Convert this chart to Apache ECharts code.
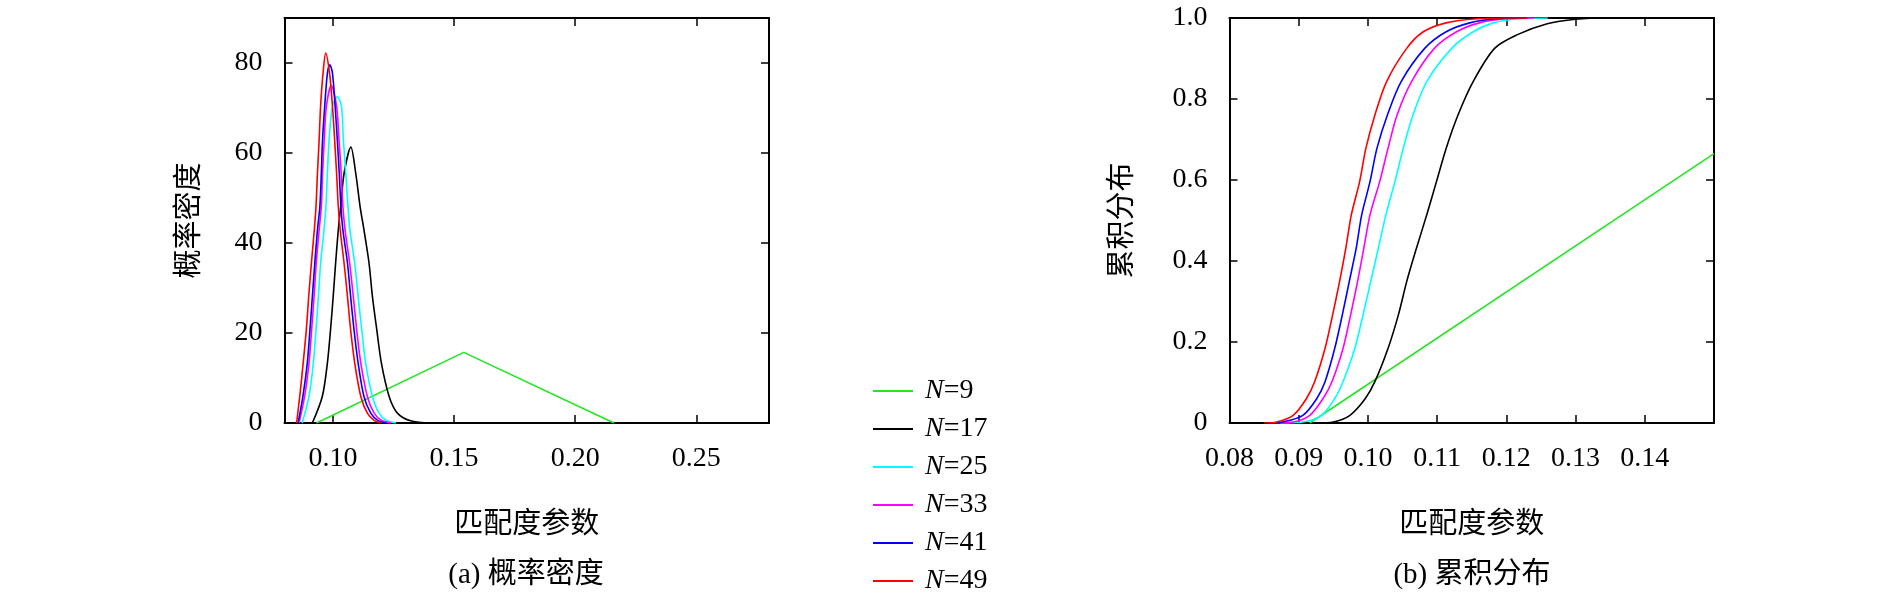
<!DOCTYPE html>
<html><head><meta charset="utf-8">
<script src="https://cdn.jsdelivr.net/npm/echarts@6/dist/echarts.min.js"></script>
<style>html,body{margin:0;padding:0;background:#fff}#c{width:1890px;height:602px}</style>
</head><body><div id="c"></div>
<script>
// ---------- data ----------
const seriesNames  = ['N=9', 'N=17', 'N=25', 'N=33', 'N=41', 'N=49'];
const seriesColors = ['#22e622', '#000000', '#00ffff', '#ff00ff', '#0000ff', '#ff0000'];

// (a) probability density, [x, density]
const pdfN9  = [[0.0932,0],[0.1540,15.7],[0.2160,0]];
const pdfN17 = [[0.0915,0],[0.0956,5.9],[0.0977,13.3],[0.0990,20.7],[0.1001,28.1],[0.1011,35.5],[0.1022,42.9],[0.1032,48.1],[0.1046,55.5],[0.1074,61.3],[0.1094,55.5],[0.1112,48.1],[0.1128,42.9],[0.1149,35.5],[0.1163,28.1],[0.1181,20.7],[0.1200,13.3],[0.1232,5.9],[0.1266,2.2],[0.1320,0.5],[0.1405,0]];
const pdfN25 = [[0.0873,0],[0.0901,5.9],[0.0919,13.3],[0.0930,20.7],[0.0940,28.1],[0.0949,35.5],[0.0963,42.9],[0.0971,48.1],[0.0977,55.5],[0.0984,62.9],[0.0998,70.4],[0.1018,72.5],[0.1035,70.4],[0.1043,62.9],[0.1053,55.5],[0.1062,48.1],[0.1070,42.9],[0.1090,35.5],[0.1104,28.1],[0.1119,20.7],[0.1135,13.3],[0.1163,5.9],[0.1190,2.2],[0.1220,0.6],[0.1260,0]];
const pdfN33 = [[0.0860,0],[0.0883,5.9],[0.0901,13.3],[0.0912,20.7],[0.0922,28.1],[0.0931,35.5],[0.0943,42.9],[0.0952,48.1],[0.0957,55.5],[0.0964,62.9],[0.0973,70.4],[0.0993,75.0],[0.1015,70.4],[0.1025,62.9],[0.1034,55.5],[0.1041,48.1],[0.1050,42.9],[0.1069,35.5],[0.1084,28.1],[0.1098,20.7],[0.1115,13.3],[0.1142,5.9],[0.1170,2.2],[0.1200,0.6],[0.1240,0]];
const pdfN41 = [[0.0856,0],[0.0876,5.9],[0.0894,13.3],[0.0905,20.7],[0.0915,28.1],[0.0925,35.5],[0.0936,42.9],[0.0946,48.1],[0.0952,55.5],[0.0957,62.9],[0.0966,70.4],[0.0977,77.7],[0.0987,79.6],[0.0998,77.7],[0.1009,70.4],[0.1018,62.9],[0.1026,55.5],[0.1033,48.1],[0.1041,42.9],[0.1060,35.5],[0.1073,28.1],[0.1087,20.7],[0.1104,13.3],[0.1128,5.9],[0.1156,2.2],[0.1185,0.6],[0.1220,0]];
const pdfN49 = [[0.0850,0],[0.0863,5.9],[0.0877,13.3],[0.0890,20.7],[0.0900,28.1],[0.0911,35.5],[0.0923,42.9],[0.0930,48.1],[0.0936,55.5],[0.0943,62.9],[0.0949,70.4],[0.0959,77.7],[0.0970,82.2],[0.0986,77.7],[0.0998,70.4],[0.1007,62.9],[0.1015,55.5],[0.1022,48.1],[0.1030,42.9],[0.1046,35.5],[0.1060,28.1],[0.1073,20.7],[0.1090,13.3],[0.1115,5.9],[0.1142,2.2],[0.1170,0.6],[0.1200,0]];

// (b) cumulative distribution, [x, F]
const cdfN9  = [[0.0916,0],[0.1500,0.665]];
const cdfN17 = [[0.0926,0],[0.0950,0.0025],[0.0974,0.019],[0.0996,0.060],[0.1010,0.102],[0.1029,0.184],[0.1044,0.267],[0.1056,0.349],[0.1070,0.431],[0.1085,0.514],[0.1099,0.596],[0.1113,0.678],[0.1130,0.760],[0.1152,0.843],[0.1183,0.925],[0.1216,0.959],[0.1259,0.986],[0.1300,0.997],[0.1346,1.0],[0.1380,1.0]];
const cdfN25 = [[0.0873,0],[0.0906,0.0025],[0.0933,0.019],[0.0952,0.060],[0.0964,0.102],[0.0981,0.184],[0.0993,0.267],[0.1004,0.349],[0.1015,0.431],[0.1026,0.514],[0.1039,0.596],[0.1051,0.678],[0.1065,0.760],[0.1085,0.843],[0.1121,0.925],[0.1152,0.966],[0.1181,0.988],[0.1220,0.998],[0.1260,1.0]];
const cdfN33 = [[0.0860,0],[0.0892,0.0025],[0.0916,0.019],[0.0935,0.060],[0.0948,0.102],[0.0964,0.184],[0.0975,0.267],[0.0985,0.349],[0.0994,0.431],[0.1003,0.514],[0.1017,0.596],[0.1029,0.678],[0.1042,0.760],[0.1063,0.843],[0.1096,0.925],[0.1128,0.966],[0.1161,0.988],[0.1200,0.998],[0.1240,1.0]];
const cdfN41 = [[0.0856,0],[0.0877,0.0025],[0.0906,0.019],[0.0926,0.060],[0.0938,0.102],[0.0952,0.184],[0.0963,0.267],[0.0973,0.349],[0.0983,0.431],[0.0991,0.514],[0.1003,0.596],[0.1013,0.678],[0.1028,0.760],[0.1048,0.843],[0.1082,0.925],[0.1113,0.966],[0.1147,0.988],[0.1185,0.998],[0.1230,1.0]];
const cdfN49 = [[0.0850,0],[0.0868,0.0025],[0.0892,0.019],[0.0911,0.060],[0.0923,0.102],[0.0938,0.184],[0.0949,0.267],[0.0959,0.349],[0.0968,0.431],[0.0976,0.514],[0.0988,0.596],[0.0997,0.678],[0.1010,0.760],[0.1027,0.843],[0.1056,0.925],[0.1080,0.966],[0.1113,0.988],[0.1157,0.998],[0.1200,1.0],[0.1230,1.0]];

// tick labels
const pdfXTicks = [0.10, 0.15, 0.20, 0.25];
const cdfXTicks = [0.08, 0.09, 0.10, 0.11, 0.12, 0.13, 0.14];

const pdfData = [pdfN9, pdfN17, pdfN25, pdfN33, pdfN41, pdfN49];
const cdfData = [cdfN9, cdfN17, cdfN25, cdfN33, cdfN41, cdfN49];

// ---------- chart ----------
const FONT = "'Liberation Serif', 'Noto Sans CJK SC', serif";
const FS = 28;
const lineAxis = {show: true, onZero: false, lineStyle: {color: '#000', width: 2}};
const tickIn = (extra) => Object.assign({show: true, inside: true, length: 8, lineStyle: {color: '#000', width: 1.5}}, extra || {});
const lbl = (extra) => Object.assign({color: '#000', fontFamily: FONT, fontSize: FS}, extra || {});
const nameStyle = {color: '#000', fontFamily: FONT, fontSize: 29};

const xAxes = [
  {gridIndex: 0, type: 'value', min: 0.08, max: 0.28, position: 'bottom',
   axisLine: lineAxis, splitLine: {show: false},
   axisTick: tickIn({customValues: pdfXTicks}),
   axisLabel: lbl({customValues: pdfXTicks, margin: 22, formatter: v => v.toFixed(2)}),
   name: '匹配度参数', nameLocation: 'middle', nameGap: 88, nameTextStyle: nameStyle},
  {gridIndex: 0, type: 'value', min: 0.08, max: 0.28, position: 'top',
   axisLine: lineAxis, splitLine: {show: false},
   axisTick: tickIn({customValues: pdfXTicks}), axisLabel: {show: false}},
  {gridIndex: 1, type: 'value', min: 0.08, max: 0.15, interval: 0.01, position: 'bottom',
   axisLine: lineAxis, splitLine: {show: false},
   axisTick: tickIn({customValues: cdfXTicks}),
   axisLabel: lbl({customValues: cdfXTicks, margin: 22, formatter: v => v.toFixed(2)}),
   name: '匹配度参数', nameLocation: 'middle', nameGap: 88, nameTextStyle: nameStyle},
  {gridIndex: 1, type: 'value', min: 0.08, max: 0.15, interval: 0.01, position: 'top',
   axisLine: lineAxis, splitLine: {show: false},
   axisTick: tickIn({customValues: cdfXTicks}), axisLabel: {show: false}}
];
const yAxes = [
  {gridIndex: 0, type: 'value', min: 0, max: 90, interval: 20, position: 'left',
   axisLine: lineAxis, splitLine: {show: false}, axisTick: tickIn(),
   axisLabel: lbl({margin: 22, showMaxLabel: false}),
   name: '概率密度', nameLocation: 'middle', nameRotate: 90, nameGap: 80, nameTextStyle: nameStyle},
  {gridIndex: 0, type: 'value', min: 0, max: 90, interval: 20, position: 'right',
   axisLine: lineAxis, splitLine: {show: false}, axisTick: tickIn(), axisLabel: {show: false}},
  {gridIndex: 1, type: 'value', min: 0, max: 1, interval: 0.2, position: 'left',
   axisLine: lineAxis, splitLine: {show: false}, axisTick: tickIn(),
   axisLabel: lbl({margin: 22, formatter: v => v === 0 ? '0' : v.toFixed(1)}),
   name: '累积分布', nameLocation: 'middle', nameRotate: 90, nameGap: 92, nameTextStyle: nameStyle},
  {gridIndex: 1, type: 'value', min: 0, max: 1, interval: 0.2, position: 'right',
   axisLine: lineAxis, splitLine: {show: false}, axisTick: tickIn(), axisLabel: {show: false}}
];

const series = [];
seriesNames.forEach((n, i) => {
  const sm = i === 0 ? false : 0.3;
  series.push({name: n, type: 'line', xAxisIndex: 0, yAxisIndex: 0, data: pdfData[i],
    symbol: 'none', smooth: sm, color: seriesColors[i],
    lineStyle: {width: 1.6, color: seriesColors[i]}, z: 3 + i});
  series.push({name: n, type: 'line', xAxisIndex: 2, yAxisIndex: 2, data: cdfData[i],
    symbol: 'none', smooth: sm, color: seriesColors[i],
    lineStyle: {width: 1.6, color: seriesColors[i]}, z: 3 + i});
});

const option = {
  backgroundColor: '#ffffff',
  animation: false,
  grid: [
    {left: 284.5, top: 18, width: 484.5, height: 405},
    {left: 1229.5, top: 18, width: 484.5, height: 405}
  ],
  xAxis: xAxes,
  yAxis: yAxes,
  title: [
    {text: '(a) 概率密度', left: 526, top: 561, padding: 0, textAlign: 'center',
     textStyle: {color: '#000', fontFamily: FONT, fontSize: 29, fontWeight: 'normal'}},
    {text: '(b) 累积分布', left: 1472, top: 561, padding: 0, textAlign: 'center',
     textStyle: {color: '#000', fontFamily: FONT, fontSize: 29, fontWeight: 'normal'}}
  ],
  legend: {
    data: seriesNames, orient: 'vertical', left: 873, top: 377, padding: 0, height: 225,
    icon: 'rect', itemWidth: 40, itemHeight: 2, itemGap: 10,
    formatter: n => '{i|N}' + n.slice(1),
    textStyle: {color: '#000', fontFamily: FONT, fontSize: FS, padding: [0, 0, 0, 7],
      rich: {i: {fontStyle: 'italic', fontFamily: FONT, fontSize: FS, color: '#000'}}}
  },
  series: series
};
const chart = echarts.init(document.getElementById('c'), null, {renderer: 'canvas'});
chart.setOption(option);
</script></body></html>
